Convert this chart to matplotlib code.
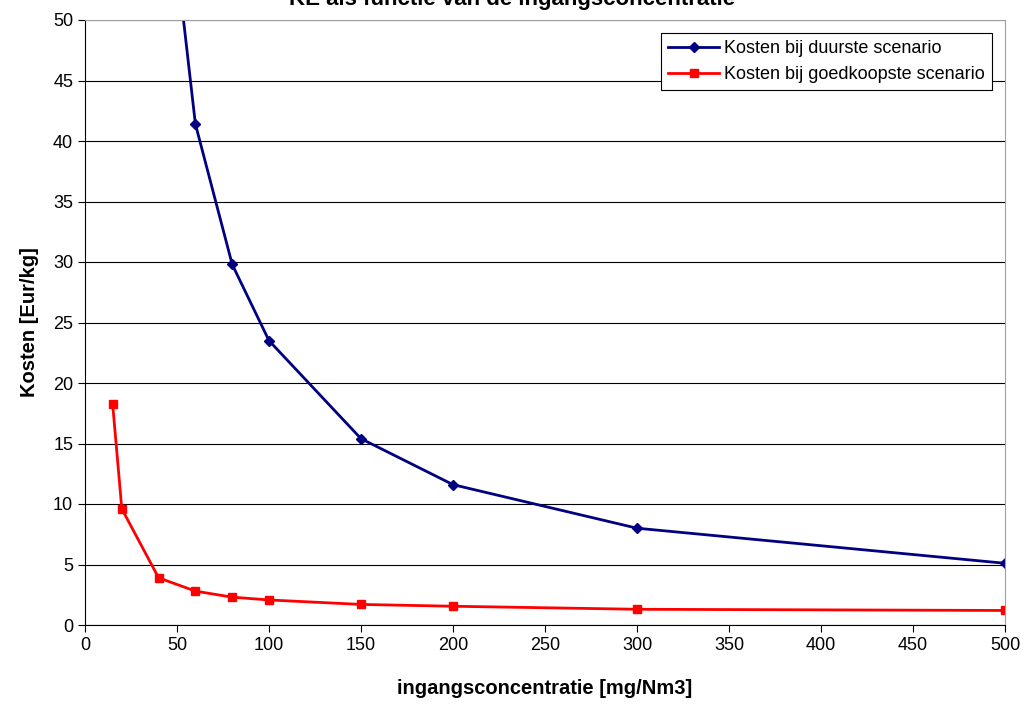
import matplotlib.pyplot as plt

plt.rcParams['font.family'] = ['Liberation Sans', 'DejaVu Sans']

# ingangsconcentratie [mg/Nm3]
conc = [15, 20, 40, 60, 80, 100, 150, 200, 300, 500]
# kosten [Eur/kg]
duur = [166, 124, 68, 41.4, 29.8, 23.5, 15.4, 11.6, 8.0, 5.1]
goedkoop = [18.3, 9.6, 3.9, 2.8, 2.3, 2.07, 1.7, 1.55, 1.3, 1.2]

fig = plt.figure(figsize=(10.24, 7.04), dpi=100)
ax = fig.add_axes([85 / 1024, 1 - 625 / 704, 920 / 1024, 605 / 704])

ax.plot(conc, duur, color='#000080', lw=2, marker='D', ms=5, label='Kosten bij duurste scenario')
ax.plot(conc, goedkoop, color='#ff0000', lw=2, marker='s', ms=6, label='Kosten bij goedkoopste scenario')

ax.set_xlim(0, 500)
ax.set_ylim(0, 50)
ax.set_xticks(range(0, 501, 50))
ax.set_yticks(range(0, 51, 5))
ax.yaxis.grid(True, color='black', lw=0.8)
ax.set_axisbelow(True)
ax.tick_params(labelsize=13, direction='out', length=5)
for s in ['top', 'right']:
    ax.spines[s].set_color('#a0a0a0')

ax.set_xlabel('ingangsconcentratie [mg/Nm3]', fontsize=14.5, fontweight='bold', labelpad=18)
ax.set_ylabel('Kosten [Eur/kg]', fontsize=14.5, fontweight='bold', labelpad=10)
fig.text(0.5, 1.0, 'KE als functie van de ingangsconcentratie', ha='center', va='center',
         fontsize=16, fontweight='bold')

leg = ax.legend(loc='upper right', bbox_to_anchor=(0.996, 0.994), fontsize=13, fancybox=False,
                framealpha=1, edgecolor='black', borderpad=0.4, handlelength=2.8,
                handletextpad=0.3, labelspacing=0.5)
leg.get_frame().set_linewidth(0.8)

fig.savefig('out.png', dpi=100)
